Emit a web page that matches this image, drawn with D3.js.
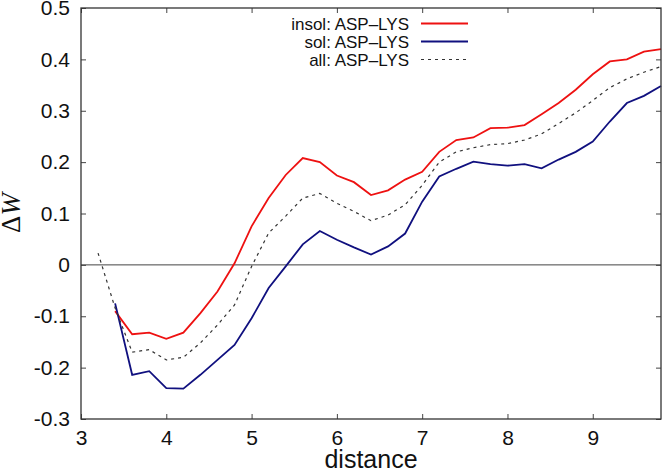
<!DOCTYPE html>
<html>
<head>
<meta charset="utf-8">
<script src="https://cdn.jsdelivr.net/npm/d3@7"></script>
<style>
body { margin: 0; background: #fff; }
text { font-family: "Liberation Sans", Arial, sans-serif; fill: #111; }
</style>
</head>
<body>
<svg width="662" height="473"></svg>
<script>
// values
var distance = [3.2,3.4,3.6,3.8,4.0,4.2,4.4,4.6,4.8,5.0,5.2,5.4,5.6,5.8,6.0,6.2,6.4,6.6,6.8,7.0,7.2,7.4,7.6,7.8,8.0,8.2,8.4,8.6,8.8,9.0,9.2,9.4,9.6,9.8];
var insol = [null,-0.09,-0.135,-0.132,-0.144,-0.132,-0.094,-0.052,0.003,0.075,0.13,0.175,0.208,0.200,0.174,0.161,0.136,0.145,0.166,0.181,0.220,0.243,0.248,0.266,0.267,0.272,0.293,0.315,0.341,0.371,0.396,0.400,0.415,0.420];
var sol = [null,-0.075,-0.214,-0.207,-0.240,-0.241,-0.214,-0.185,-0.156,-0.104,-0.045,-0.003,0.040,0.066,0.049,0.034,0.020,0.036,0.061,0.123,0.172,0.187,0.201,0.196,0.193,0.196,0.188,0.205,0.220,0.240,0.279,0.315,0.329,0.348];
var all = [0.023,-0.084,-0.170,-0.165,-0.185,-0.180,-0.152,-0.117,-0.078,-0.003,0.062,0.095,0.130,0.139,0.120,0.104,0.086,0.097,0.117,0.155,0.200,0.220,0.228,0.234,0.236,0.243,0.255,0.275,0.296,0.320,0.345,0.362,0.375,0.386];

var xTicks = [3,4,5,6,7,8,9];
var yTicks = [-0.3,-0.2,-0.1,0,0.1,0.2,0.3,0.4,0.5];

var series = [
  {name: "insol: ASP\u2013LYS", values: insol, color: "#ee1111", dash: null, width: 1.8},
  {name: "sol: ASP\u2013LYS", values: sol, color: "#10107f", dash: null, width: 1.8},
  {name: "all: ASP\u2013LYS", values: all, color: "#333", dash: "3,4", width: 1.2}
];

var svg = d3.select("svg");
// plot box (note: "top" is reserved on window, so use prefixed names)
var pLeft = 81, pRight = 661, pTop = 8, pBottom = 419;

var x = d3.scaleLinear().domain([3, 9.8]).range([pLeft, pRight]);
var y = d3.scaleLinear().domain([-0.3, 0.5]).range([pBottom, pTop]);

var fmt = function(d) { return d === 0 ? "0" : d3.format(".1f")(d).replace("\u2212", "-"); };

// zero line
svg.append("line")
  .attr("x1", pLeft).attr("x2", pRight)
  .attr("y1", y(0)).attr("y2", y(0))
  .attr("stroke", "#444").attr("stroke-width", 1);

// lines
series.forEach(function(s) {
  var line = d3.line()
    .defined(function(d, i) { return s.values[i] != null; })
    .x(function(d, i) { return x(distance[i]); })
    .y(function(d, i) { return y(s.values[i]); });
  svg.append("path")
    .datum(distance)
    .attr("d", line)
    .attr("fill", "none")
    .attr("stroke", s.color)
    .attr("stroke-width", s.width)
    .attr("stroke-dasharray", s.dash);
});

// axes with inward ticks, mirrored
var gx = svg.append("g").attr("transform", "translate(0," + pBottom + ")")
  .call(d3.axisBottom(x).tickValues(xTicks).tickSizeInner(-5).tickSizeOuter(0).tickPadding(11).tickFormat(d3.format("d")));
var gxt = svg.append("g").attr("transform", "translate(0," + pTop + ")")
  .call(d3.axisTop(x).tickValues(xTicks).tickSizeInner(-5).tickSizeOuter(0).tickFormat(""));
var gy = svg.append("g").attr("transform", "translate(" + pLeft + ",0)")
  .call(d3.axisLeft(y).tickValues(yTicks).tickSizeInner(-5).tickSizeOuter(0).tickPadding(11).tickFormat(fmt));
var gyr = svg.append("g").attr("transform", "translate(" + pRight + ",0)")
  .call(d3.axisRight(y).tickValues(yTicks).tickSizeInner(-5).tickSizeOuter(0).tickFormat(""));

[gx, gxt, gy, gyr].forEach(function(g) {
  g.select(".domain").remove();
  g.selectAll(".tick line").attr("stroke", "#444");
  g.selectAll("text").style("font-size", "21px").attr("fill", "#111")
    .style("font-family", "Liberation Sans, Arial, sans-serif");
});

// frame
svg.append("rect")
  .attr("x", pLeft).attr("y", pTop)
  .attr("width", pRight - pLeft).attr("height", pBottom - pTop)
  .attr("fill", "none").attr("stroke", "#333").attr("stroke-width", 1.3);

// axis titles
svg.append("text")
  .attr("x", 371).attr("y", 468)
  .attr("text-anchor", "middle")
  .style("font-size", "25px")
  .text("distance");

var yl = svg.append("text")
  .attr("transform", "translate(20,213) rotate(-90)")
  .attr("text-anchor", "middle")
  .style("font-family", "Liberation Serif, Times New Roman, serif")
  .style("font-size", "27px");
yl.append("tspan").text("\u0394");
yl.append("tspan").style("font-style", "italic").text("W");

// legend
var leg = svg.append("g");
series.forEach(function(s, i) {
  var ly = 23.5 + i * 18;
  leg.append("text")
    .attr("x", 409).attr("y", ly + 6)
    .attr("text-anchor", "end")
    .style("font-size", "17px")
    .text(s.name);
  leg.append("line")
    .attr("x1", 421).attr("x2", 468)
    .attr("y1", ly).attr("y2", ly)
    .attr("stroke", s.color)
    .attr("stroke-width", s.width)
    .attr("stroke-dasharray", s.dash);
});
</script>
</body>
</html>
